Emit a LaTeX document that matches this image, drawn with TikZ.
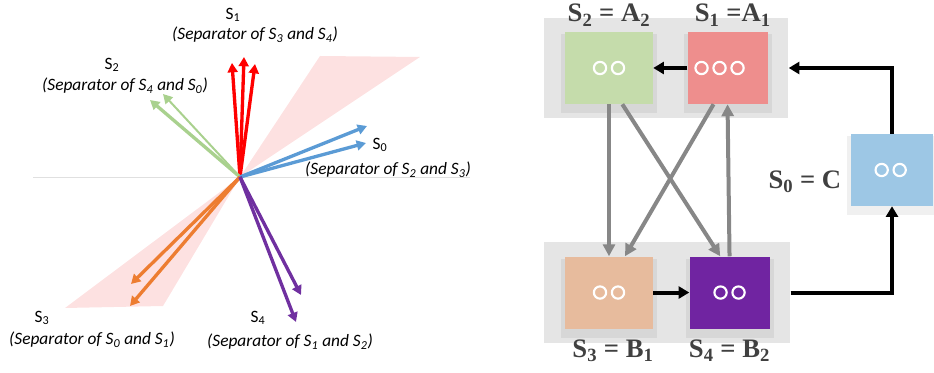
\documentclass[tikz,border=0pt]{standalone}
\usepackage{fontspec}
\setmainfont{Liberation Serif}
\newfontfamily\calibri{Carlito}
\usepackage{xcolor}
\usetikzlibrary{arrows.meta, positioning, fit, backgrounds, shadows}

\definecolor{vgreen}{HTML}{A9D18E}
\definecolor{vblue}{HTML}{5B9BD5}
\definecolor{vorange}{HTML}{ED7D31}
\definecolor{vpurple}{HTML}{7030A0}
\definecolor{wedge}{HTML}{FDE1E1}
\definecolor{boxgreen}{HTML}{C5DCAB}
\definecolor{boxred}{HTML}{EE8E8D}
\definecolor{boxorange}{HTML}{E7BB9D}
\definecolor{boxpurple}{HTML}{7024A1}
\definecolor{boxblue}{HTML}{9DC7E5}

\tikzset{rings/.style n args={2}{path picture={
    \foreach \k in {1,...,#1}
        \draw[white, line width=1.6pt] ([xshift={#2+(\k-(#1+1)/2)*13.5pt}]path picture bounding box.center) circle (4.6pt);
}}}

\begin{document}
\begin{tikzpicture}[x=0.75pt, y=-0.75pt, >={Triangle[length=7pt, width=7.5pt]}]
    % Define styles
    \tikzstyle{vec} = [line width=2.5pt, ->]
    \tikzstyle{vname} = [inner sep=0pt, font=\calibri\fontsize{13}{15}\selectfont]
    \tikzstyle{sepnote} = [inner sep=0pt, font=\calibri\itshape\fontsize{13}{15}\selectfont]
    \tikzstyle{state} = [rectangle, minimum height=54pt, inner sep=0pt,
        drop shadow={fill=black, opacity=0.06, shadow xshift=0pt, shadow yshift=-4pt, shadow scale=1.1}]
    \tikzstyle{group} = [rectangle, fill=black!10, inner xsep=15.5pt, inner ysep=10.5pt]
    \tikzstyle{eqlabel} = [inner sep=0pt, text=black!75, font=\bfseries\fontsize{20}{24}\selectfont]
    \tikzstyle{link} = [line width=3pt, ->, >={Triangle[length=8pt, width=9pt]}]
    \tikzstyle{cross} = [line width=3pt, draw=black!47, ->, >={Triangle[length=9pt, width=9pt]}]

    \useasboundingbox (0,0) rectangle (934,373);

    % Left: separator vectors
    \coordinate (o) at (240,177);
    \fill[wedge] (o) -- (320,56) -- (420,57) -- cycle;
    \fill[wedge] (o) -- (65,308) -- (163,306) -- cycle;
    \draw[black!12, line width=0.6pt] (33,177) -- (470,177);

    \coordinate (s1a) at (232,63);
    \coordinate (s1b) at (244,57);
    \coordinate (s1c) at (255,64);
    \coordinate (s2a) at (150,100);
    \coordinate (s2b) at (163,94);
    \coordinate (s0a) at (367,126);
    \coordinate (s0b) at (366,143);
    \coordinate (s3a) at (131,284);
    \coordinate (s3b) at (130,306);
    \coordinate (s4a) at (301,295);
    \coordinate (s4b) at (296,322);

    \draw [vec, red] (o) -- (s1a);
    \draw [vec, red] (o) -- (s1b);
    \draw [vec, red] (o) -- (s1c);
    \draw [vec, vgreen] (o) -- (s2a);
    \draw [vec, vgreen, line width=1.5pt] (o) -- (s2b);
    \draw [vec, vblue] (o) -- (s0a);
    \draw [vec, vblue] (o) -- (s0b);
    \draw [vec, vorange] (o) -- (s3a);
    \draw [vec, vorange] (o) -- (s3b);
    \draw [vec, vpurple] (o) -- (s4a);
    \draw [vec, vpurple] (o) -- (s4b);

    \node (lab1) [vname] at (233,15) {S\textsubscript{1}};
    \node (sep1) [sepnote] at (255,35) {(Separator of S\textsubscript{3} and S\textsubscript{4})};
    \node (lab2) [vname] at (112,65) {S\textsubscript{2}};
    \node (sep2) [sepnote] at (125,86) {(Separator of S\textsubscript{4} and S\textsubscript{0})};
    \node (lab0) [vname] at (380,145) {S\textsubscript{0}};
    \node (sep0) [sepnote] at (388,170) {(Separator of S\textsubscript{2} and S\textsubscript{3})};
    \node (lab3) [vname] at (42,318) {S\textsubscript{3}};
    \node (sep3) [sepnote] at (92,340) {(Separator of S\textsubscript{0} and S\textsubscript{1})};
    \node (lab4) [vname] at (258,318) {S\textsubscript{4}};
    \node (sep4) [sepnote] at (290,342) {(Separator of S\textsubscript{1} and S\textsubscript{2})};

    % Right: state graph
    \node (a2) [state, fill=boxgreen, minimum width=66pt, rings={2}{0pt}] at (609,68) {};
    \node (a1) [state, fill=boxred, minimum width=60pt, rings={3}{-6pt}, right=25.5pt of a2] {};
    \node (b1) [state, fill=boxorange, minimum width=66pt, rings={2}{0pt}, below=114pt of a2] {};
    \node (b2) [state, fill=boxpurple, minimum width=60pt, rings={2}{0pt}, right=27pt of b1] {};
    \node (c) [state, fill=boxblue, minimum width=61.5pt, rings={2}{-1pt}] at (892,170) {};

    \begin{scope}[on background layer]
        \node (grpA) [group, fit=(a2)(a1)] {};
        \node (grpB) [group, fit=(b1)(b2)] {};
    \end{scope}

    \node (la2) [eqlabel, above=4pt of a2] {S\textsubscript{2} = A\textsubscript{2}};
    \node (la1) [eqlabel, above=4pt of a1, xshift=4pt] {S\textsubscript{1} =A\textsubscript{1}};
    \node (lb1) [eqlabel, below=8pt of b1, xshift=3pt] {S\textsubscript{3} = B\textsubscript{1}};
    \node (lb2) [eqlabel, below=8pt of b2] {S\textsubscript{4} = B\textsubscript{2}};
    \node (lc) [eqlabel, left=7pt of c, yshift=-9pt] {S\textsubscript{0} = C};

    % Arrows
    \draw [cross] (a2.south) -- (b1.north);
    \draw [cross] ([xshift=10pt]a2.south) -- ([xshift=-7pt]b2.north);
    \draw [cross] ([xshift=-10.5pt]a1.south) -- ([xshift=12pt]b1.north);
    \draw [cross] (b2.north) -- (a1.south);
    \draw [link] (a1.west) -- (a2.east);
    \draw [link] (b1.east) -- (b2.west);
    \draw [link] (c.north) |- (grpA.east);
    \draw [link] (grpB.east) -| (c.south);
\end{tikzpicture}
\end{document}
